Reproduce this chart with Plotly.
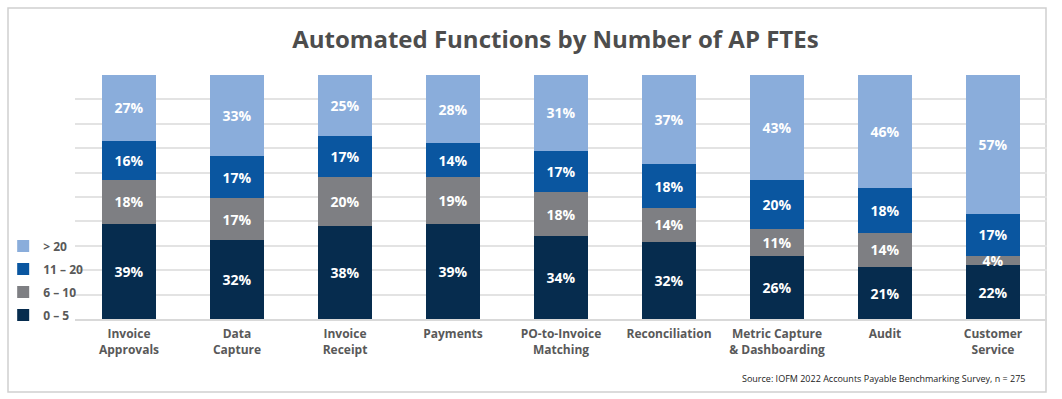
import plotly.graph_objects as go

categories = ["Invoice<br>Approvals", "Data<br>Capture", "Invoice<br>Receipt", "Payments",
              "PO-to-Invoice<br>Matching", "Reconciliation", "Metric Capture<br>& Dashboarding",
              "Audit", "Customer<br>Service"]
s_0_5 = [39, 32, 38, 39, 34, 32, 26, 21, 22]
s_6_10 = [18, 17, 20, 19, 18, 14, 11, 14, 4]
s_11_20 = [16, 17, 17, 14, 17, 18, 20, 18, 17]
s_20p = [27, 33, 25, 28, 31, 37, 43, 46, 57]

series = [
    ("0 – 5", s_0_5, "#062c4e"),
    ("6 – 10", s_6_10, "#7e7f83"),
    ("11 – 20", s_11_20, "#0a56a0"),
    ("> 20", s_20p, "#8aaddb"),
]

FONT = "Open Sans"
fig = go.Figure()
for i, (name, vals, color) in enumerate(series):
    fig.add_trace(go.Bar(
        x=categories, y=vals, name=name, marker=dict(color=color, line=dict(width=0)),
        text=vals, texttemplate="%{text}%", textposition="inside", insidetextanchor="middle",
        textfont=dict(family=FONT, size=14, color="white", weight="bold"),
        legendgroup=name, legendrank=1000 - i, hoverinfo="skip",
    ))

fig.update_layout(
    width=1062, height=399,
    barmode="stack", barnorm="percent", bargap=0.5,
    plot_bgcolor="white", paper_bgcolor="white",
    margin=dict(l=75, r=15, t=75, b=80, autoexpand=False),
    title=dict(text="<b>Automated Functions by Number of AP FTEs</b>", x=0.523, xanchor="center",
               y=0.9, yanchor="middle", font=dict(family=FONT, size=24, color="#4d4d4d")),
    uniformtext=dict(minsize=13, mode="show"),
    showlegend=True,
    legend=dict(traceorder="grouped", xref="container", yref="container",
                x=0.003, xanchor="left", y=0.297, yanchor="middle",
                font=dict(family=FONT, size=12, color="#595959", weight="bold"),
                tracegroupgap=4, itemwidth=30, bgcolor="rgba(0,0,0,0)"),
    xaxis=dict(tickfont=dict(family=FONT, size=12, color="#595959", weight="bold"),
               showline=True, linecolor="#d9d9d9", linewidth=2, ticks="", range=[-0.5, 8.5],
               ticklabelstandoff=3),
    yaxis=dict(range=[0, 100], dtick=10, showticklabels=False, gridcolor="#e3e3e3", gridwidth=1.5,
               zeroline=False, showline=False),
)

fig.add_shape(type="rect", xref="paper", yref="paper",
              x0=(8 - 75) / 972, x1=(1046 - 75) / 972,
              y0=(319 - 392) / 244, y1=(319 - 8) / 244,
              line=dict(color="#d0d0d0", width=1.5), fillcolor="rgba(0,0,0,0)", layer="below")

fig.add_annotation(text="Source: IOFM 2022 Accounts Payable Benchmarking Survey, n = 275",
                   xref="paper", yref="paper", x=(1027 - 75) / 972, y=(319 - 378) / 244,
                   xanchor="right", yanchor="middle", showarrow=False,
                   font=dict(family=FONT, size=9, color="#222222"))

fig.write_html("out.html", config={"displayModeBar": False},
               post_script="document.body.style.margin='0';")
